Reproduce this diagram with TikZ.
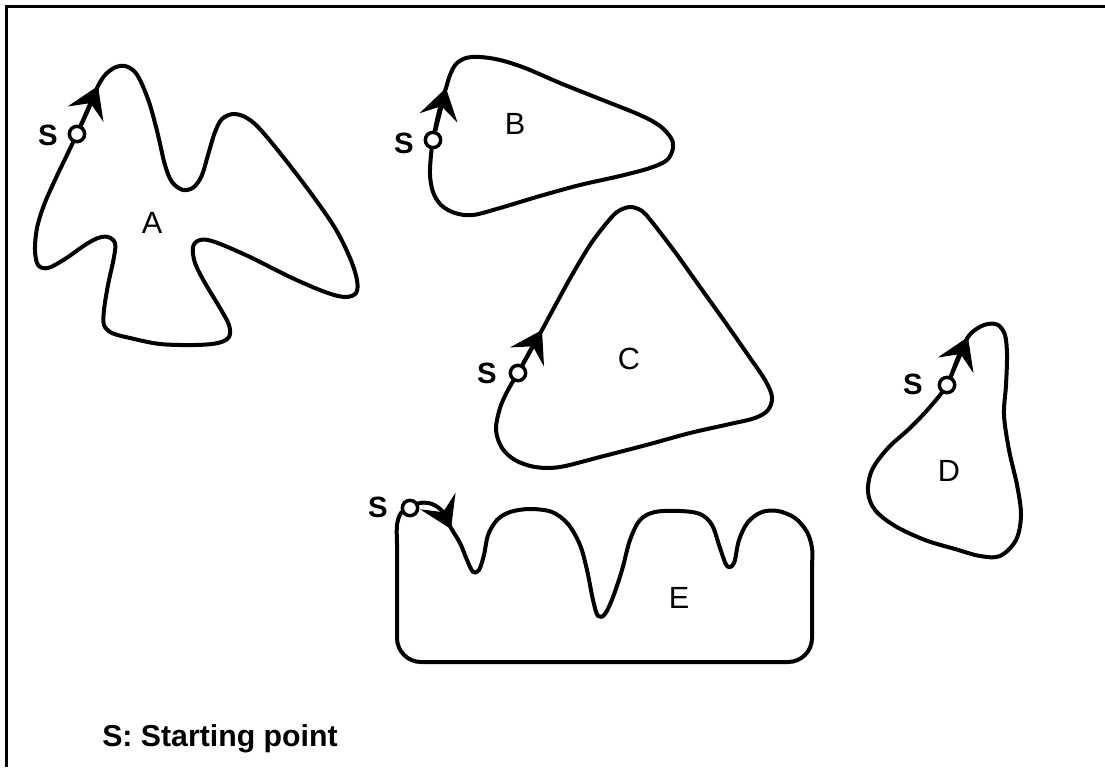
\documentclass[tikz,border=0pt]{standalone}
\usepackage{fontspec}
\setmainfont{Liberation Sans}
\usetikzlibrary{arrows.meta}
\begin{document}
\begin{tikzpicture}[x=0.75pt,y=-0.75pt,
  outline/.style={line width=3pt,line join=round,line cap=round},
  startpt/.style={circle,draw,fill=white,line width=2.6pt,inner sep=0pt,minimum size=11.5pt},
  arr/.style={line width=3pt,-{Stealth[length=23pt,width=29pt,inset=9pt]}},
  slabel/.style={font=\bfseries\fontsize{22pt}{23pt}\selectfont,inner sep=0pt},
  letter/.style={font=\fontsize{23pt}{24pt}\selectfont,inner sep=0pt},
  legend/.style={font=\bfseries\fontsize{22.7pt}{24pt}\selectfont,inner sep=0pt,anchor=base west}]
\useasboundingbox (0,0) rectangle (1105,767);
% frame
\draw[line width=2pt] (6.5,767) -- (6.5,6.5) -- (1105,6.5);

% ---------- A ----------
\draw[outline] plot[smooth cycle,tension=0.55] coordinates {
(77,134) (88,110) (98,86) (106,74) (116,67) (125,66) (134,71) (141,82) (150,105)
(158,135) (165,165) (172,182) (183,190) (194,187) (202,175) (208,155) (215,132)
(222,119) (233,114) (245,117) (258,127) (280,153) (310,192) (335,228) (350,258)
(357,280) (356,293) (345,297) (325,292) (290,277) (250,257) (215,242) (200,240)
(193,247) (195,263) (205,283) (220,308) (229,325) (229,337) (218,343) (195,345)
(160,344) (130,338) (112,333) (104,325) (104,310) (108,285) (114,257) (115,243)
(108,237) (98,238) (85,245) (65,259) (48,268) (38,265) (35,250) (37,228) (44,205)
(55,180) (66,157)};
% ---------- B ----------
\draw[outline] plot[smooth cycle,tension=0.55] coordinates {
(433,140) (437,120) (442,100) (446,88) (450,75) (456,64) (466,58) (480,57) (500,60)
(525,68) (560,83) (600,99) (640,115) (660,126) (671,138) (673,148) (667,160)
(650,168) (620,176) (580,185) (540,196) (500,208) (473,215) (455,213) (441,205)
(433,192) (430,175) (431,155)};
% ---------- C ----------
\draw[outline] plot[smooth cycle,tension=0.55] coordinates {
(518,373) (530,351) (542,330) (556,304) (572,275) (590,245) (605,225) (617,212)
(630,207) (642,211) (652,222) (675,252) (700,287) (725,322) (748,355) (765,380)
(772,397) (768,410) (755,418) (730,424) (690,433) (650,444) (600,457) (560,467)
(535,467) (515,460) (502,448) (496,430) (500,408) (508,390)};
% ---------- D ----------
\draw[outline] plot[smooth cycle,tension=0.55] coordinates {
(947,385) (957,360) (968,337) (978,328) (988,324) (998,325) (1005,335) (1007,355)
(1006,385) (1004,415) (1009,450) (1017,485) (1021,515) (1016,540) (1000,556)
(980,556) (955,549) (925,540) (895,526) (875,510) (868,492) (872,470) (888,448)
(910,428) (930,407)};
% ---------- E ----------
\draw[outline] plot[smooth,tension=0.55] coordinates {
(397,545) (397,525) (401,513) (410,508) (420,503) (432,504) (443,512) (451,528)
(460,543) (467,560) (473,572) (479,570) (484,555) (488,535) (497,520) (510,512)
(530,509) (552,512) (568,524) (580,545) (587,570) (593,600) (598,616) (605,614)
(613,597) (622,570) (630,540) (640,520) (655,512) (680,511) (700,514) (712,525)
(720,548) (727,566) (734,563) (739,540) (748,522) (762,512) (778,511) (795,518)
(807,532) (812,548) (812,565)};
\draw[outline,rounded corners=18pt] (812,563) -- (812,662) -- (397,662) -- (397,543);

% arrow tips
\coordinate (tA) at (98,86);
\coordinate (tB) at (446,88);
\coordinate (tC) at (542,330);
\coordinate (tD) at (968,337);
\coordinate (nE) at (443,512);
\coordinate (tE) at (451,529);

% starting points
\node[startpt] (sA) at (77,134) {};
\node[startpt] (sB) at (433,140) {};
\node[startpt] (sC) at (518,373) {};
\node[startpt] (sD) at (947,385) {};
\node[startpt] (sE) at (410,508) {};

\draw[arr] (sA) -- (tA);
\draw[arr] (sB) -- (tB);
\draw[arr] (sC) -- (tC);
\draw[arr] (sD) -- (tD);
\draw[arr] (nE) -- (tE);

% S labels
\node[slabel] (lA) at (48,135) {S};
\node[slabel] (lB) at (404,143) {S};
\node[slabel] (lC) at (487,373) {S};
\node[slabel] (lD) at (913,384) {S};
\node[slabel] (lE) at (378,507) {S};

% shape letters
\node[letter] (nA) at (152,223) {A};
\node[letter] (nB) at (515,124) {B};
\node[letter] (nC) at (629,359) {C};
\node[letter] (nD) at (949,471) {D};
\node[letter] (nEE) at (679,598) {E};

% legend
\node[legend] (leg) at (102,746) {S: Starting point};
\end{tikzpicture}
\end{document}
